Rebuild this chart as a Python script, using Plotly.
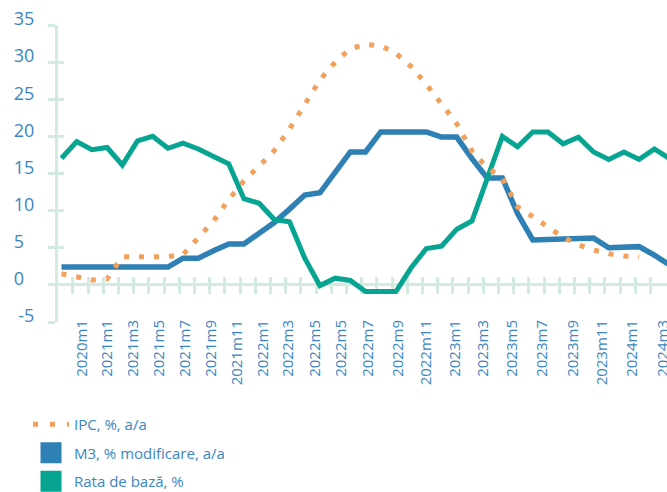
import plotly.graph_objects as go

# ---- data ----
x_labels = ["2020m1", "2021m1", "2021m3", "2021m5", "2021m7", "2021m9", "2021m11",
            "2022m1", "2022m3", "2022m5", "2022m5", "2022m7", "2022m9", "2022m11",
            "2023m1", "2023m3", "2023m5", "2023m7", "2023m9", "2023m11", "2024m1", "2024m3"]
x_label_pos = [1.33, 3.01, 4.72, 6.41, 8.13, 9.82, 11.53, 13.28, 14.92, 16.68, 18.39,
               20.18, 22.12, 23.96, 25.89, 27.75, 29.66, 31.59, 33.67, 35.54, 37.55, 39.59]

ipc = [1.5, 1.0, 0.65, 0.8, 3.8, 3.8, 3.8, 3.8, 4.1, 6.4, 8.6, 11.5, 14.0, 16.0, 18.1,
       21.0, 24.3, 27.6, 30.0, 31.8, 32.4, 32.2, 31.2, 29.4, 27.0, 24.3, 21.7, 18.0,
       15.8, 14.4, 10.5, 9.2, 7.8, 6.4, 5.4, 4.7, 4.2, 3.9, 3.8, None, None]
m3 = [2.4, 2.4, 2.4, 2.4, 2.4, 2.4, 2.4, 2.4, 3.6, 3.6, 4.6, 5.5, 5.5, 6.9, 8.4, 10.2,
      12.1, 12.4, 15.2, 17.9, 17.9, 20.6, 20.6, 20.6, 20.6, 19.9, 19.9, 17.0, 14.4, 14.4,
      9.6, 6.05, 6.1, 6.15, 6.2, 6.3, 5.0, 5.1, 5.15, 4.0, 2.7]
rata = [17.05, 19.3, 18.2, 18.5, 16.15, 19.4, 20.0, 18.4, 19.1, 18.3, 17.3, 16.3, 11.6,
        11.0, 8.8, 8.5, 3.6, -0.1, 0.9, 0.6, -0.9, -0.9, -0.9, 2.3, 4.9, 5.2, 7.5, 8.6,
        14.5, 20.0, 18.6, 20.6, 20.6, 19.0, 19.9, 17.9, 16.9, 17.9, 16.9, 18.3, 17.0]

y_ticks = [-5, 0, 5, 10, 15, 20, 25, 30, 35]
names = ["IPC, %, a/a", "M3, % modificare, a/a", "Rata de bază, %"]

# ---- styling ----
FONT = "Open Sans"
TXT = "#3a86c1"
MINT = "#d3eadf"
C_IPC = "#f2a05c"
C_M3 = "#2e80b5"
C_RATA = "#07a491"

idx = list(range(len(m3)))
minor_ticks = [j - 0.25 for j in range(1, 40)]
y_ticktext = [str(v) if len(str(v)) > 1 else str(v) + "\u2007" for v in y_ticks]

fig = go.Figure()

# helper traces so the extra tick axes are drawn
fig.add_trace(go.Scatter(x=[None], y=[None], xaxis="x2", yaxis="y", showlegend=False, hoverinfo="skip"))
fig.add_trace(go.Scatter(x=[None], y=[None], xaxis="x3", yaxis="y", showlegend=False, hoverinfo="skip"))
fig.add_trace(go.Scatter(x=[None], y=[None], xaxis="x", yaxis="y2", showlegend=False, hoverinfo="skip"))

fig.add_trace(go.Scatter(x=idx, y=m3, mode="lines", line=dict(color=C_M3, width=5.5),
                         showlegend=False, hoverinfo="skip"))
fig.add_trace(go.Scatter(x=idx, y=rata, mode="lines", line=dict(color=C_RATA, width=5),
                         showlegend=False, hoverinfo="skip"))
fig.add_trace(go.Scatter(x=idx, y=ipc, mode="lines", line=dict(color=C_IPC, width=5, dash="5px,10px"),
                         showlegend=False, hoverinfo="skip"))

# legend entries
fig.add_trace(go.Scatter(x=[None], y=[None], mode="lines", name=names[0], legendgroup="a",
                         line=dict(color=C_IPC, width=5, dash="5px,12px")))
fig.add_trace(go.Scatter(x=[None], y=[None], mode="markers", name=names[1], legendgroup="b",
                         marker=dict(symbol="square", size=16, color=C_M3, line=dict(color=C_M3, width=5))))
fig.add_trace(go.Scatter(x=[None], y=[None], mode="markers", name=names[2], legendgroup="c",
                         marker=dict(symbol="square", size=16, color=C_RATA, line=dict(color=C_RATA, width=5))))

xr = [-0.23, 39.83]
fig.update_layout(
    width=667, height=492,
    margin=dict(l=58, r=0, t=25, b=170, autoexpand=False),
    paper_bgcolor="white", plot_bgcolor="white",
    font=dict(family=FONT, color=TXT),
    xaxis=dict(range=xr, tickvals=x_label_pos, ticktext=x_labels, tickangle=-90,
               ticks="", showline=False, showgrid=False, zeroline=False,
               ticklabeloverflow="allow",
               tickfont=dict(family=FONT, size=15, color=TXT), ticklabelstandoff=-6),
    xaxis2=dict(range=xr, overlaying="x", anchor="free", position=0.125,
                tickvals=minor_ticks, ticks="outside", ticklen=8, tickwidth=3, tickcolor=MINT,
                showticklabels=False, showline=False, showgrid=False, zeroline=False,
                layer="below traces"),
    xaxis3=dict(range=xr, overlaying="x", anchor="free", position=0.125,
                tickvals=minor_ticks, ticks="inside", ticklen=8, tickwidth=3, tickcolor=MINT,
                showticklabels=False, showline=False, showgrid=False, zeroline=False,
                layer="below traces"),
    yaxis=dict(range=[-5, 35], tickvals=y_ticks, ticktext=y_ticktext,
               ticks="outside", ticklen=7, tickwidth=3, tickcolor=MINT,
               showline=True, linewidth=3, linecolor=MINT, showgrid=False,
               zeroline=True, zerolinecolor=MINT, zerolinewidth=3,
               tickfont=dict(family=FONT, size=18, color=TXT),
               ticklabelshift=-6, ticklabelstandoff=10),
    yaxis2=dict(range=[-5, 35], overlaying="y", side="left", tickvals=y_ticks,
                ticks="inside", ticklen=6, tickwidth=3, tickcolor=MINT,
                showticklabels=False, showline=False, showgrid=False, zeroline=False),
    showlegend=True,
    legend=dict(xref="container", yref="container", x=28 / 667, y=1 - 408 / 492,
                xanchor="left", yanchor="top", traceorder="grouped", tracegroupgap=6,
                itemwidth=36,
                font=dict(family=FONT, size=15, color=TXT), bgcolor="rgba(0,0,0,0)"),
)

fig.write_html("out.html", config={"displayModeBar": False},
               post_script="document.body.style.margin='0px';")
